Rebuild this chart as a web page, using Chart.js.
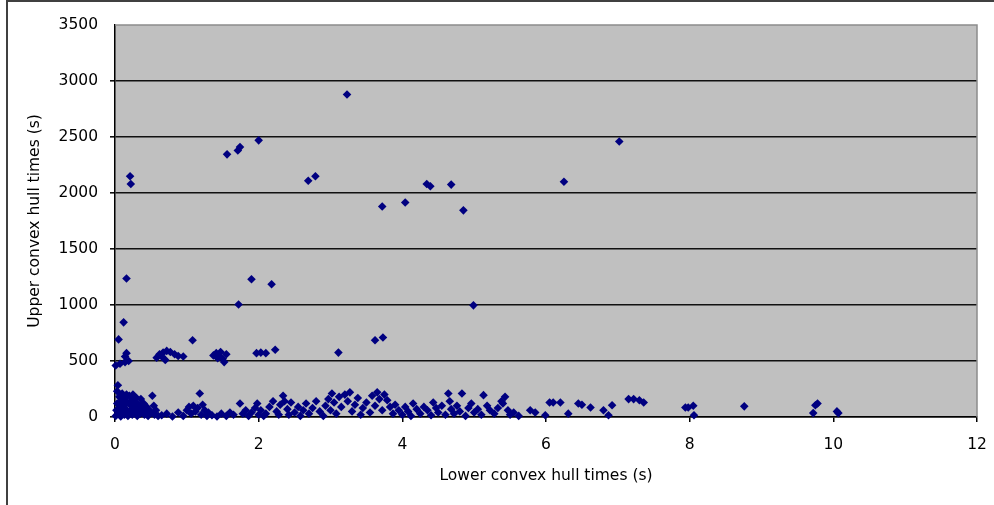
<!DOCTYPE html>
<html>
<head>
<meta charset="utf-8">
<script src="https://cdn.jsdelivr.net/npm/chart.js@4"></script>
<style>
  html, body { margin: 0; padding: 0; background: #fff; }
  #hullChart { display: block; }
</style>
</head>
<body>
<canvas id="hullChart" width="994" height="505"></canvas>
<script>
// lower convex hull time (s) for each run
const lowerTimes = [
  0.21,0.22,1.56,1.71,1.74,2.0,2.69,2.79,3.23,3.72,4.04,4.34,4.39,4.68,4.85,6.25,7.02,
  0.16,1.9,2.18,1.72,0.12,0.05,1.08,4.99,3.62,3.73,3.11,
  0.01,0.07,0.14,0.16,0.14,0.19,
  0.58,0.62,0.67,0.72,0.77,0.83,0.88,0.95,0.7,0.65,
  1.37,1.41,1.45,1.5,1.55,1.52,1.47,1.43,
  1.97,2.03,2.1,2.23,
  0.01,0.02,0.03,0.03,0.04,0.05,0.06,0.07,0.08,0.09,0.1,0.11,0.12,0.13,0.14,0.15,0.16,0.17,0.18,0.19,
  0.2,0.21,0.22,0.23,0.24,0.25,0.26,0.27,0.28,0.3,0.31,0.32,0.33,0.35,0.36,0.38,0.4,0.41,0.42,0.44,
  0.46,0.48,0.5,0.52,0.54,0.55,0.57,0.6,
  0.65,0.72,0.8,0.88,0.95,1.0,1.03,1.06,1.09,1.12,1.15,1.18,1.2,1.22,1.25,1.28,1.3,1.35,1.42,1.48,
  1.55,1.6,1.65,1.74,1.78,1.82,1.86,1.9,1.95,1.98,2.0,2.03,2.07,2.1,2.15,2.2,2.25,2.28,2.3,2.34,
  2.36,2.4,2.42,2.45,2.5,2.55,2.58,2.62,2.66,2.7,2.75,2.8,2.85,2.9,2.93,2.97,3.0,3.02,3.05,3.08,
  3.12,3.15,3.2,3.24,3.27,3.3,3.34,3.38,3.42,3.45,3.5,3.55,3.58,3.62,3.65,3.68,3.72,3.75,3.79,3.83,
  3.87,3.9,3.95,4.0,4.04,4.08,4.12,4.15,4.2,4.25,4.3,4.35,4.4,4.43,4.47,4.5,4.55,4.6,4.64,4.66,
  4.68,4.72,4.76,4.8,4.83,4.88,4.92,4.96,5.0,5.05,5.1,5.13,5.18,5.22,5.28,5.33,5.38,5.4,5.43,5.47,
  5.5,5.55,5.62,5.78,5.85,5.99,6.05,6.1,6.2,6.31,6.45,6.5,6.62,6.8,6.87,6.92,7.15,7.22,7.36,7.3,
  7.94,7.98,8.05,8.06,8.76,9.72,9.75,9.78,10.07,10.05
];

// upper convex hull time (s) for the same runs
const upperTimes = [
  2150,2080,2345,2380,2410,2470,2110,2150,2880,1880,1915,2080,2060,2075,1845,2100,2460,
  1237,1230,1185,1005,845,693,685,997,685,710,575,
  460,475,490,570,540,500,
  530,560,575,590,580,560,545,540,510,540,
  550,570,540,520,560,490,580,525,
  570,575,570,600,
  10,60,120,230,283,30,180,90,5,140,210,50,100,20,170,70,200,130,10,40,
  190,110,60,150,20,200,90,40,130,170,10,70,110,30,160,80,120,20,50,90,
  10,60,40,190,100,20,60,10,
  15,30,5,40,10,60,90,30,100,50,80,210,20,110,60,10,40,15,5,30,
  10,40,20,120,30,60,10,40,80,120,20,60,10,30,90,140,50,20,110,190,
  140,70,20,130,40,90,10,60,120,30,80,140,50,10,100,160,60,210,130,30,
  180,90,200,140,220,50,110,170,20,80,130,40,190,100,220,160,60,200,150,90,
  30,110,60,20,90,50,10,120,70,30,90,60,15,130,80,40,100,20,210,140,
  70,30,100,50,210,10,80,120,40,70,20,195,100,60,30,80,140,120,180,60,
  20,40,10,60,40,15,130,130,130,30,120,110,85,60,15,105,160,160,130,150,
  85,85,100,15,95,35,105,120,35,50
];

const xMin = 0, xMax = 12, xStep = 2;
const yMin = 0, yMax = 3500, yStep = 500;

const xLabel = 'Lower convex hull times (s)';
const yLabel = 'Upper convex hull times (s)';

const points = lowerTimes.map((x, i) => ({ x: x, y: upperTimes[i] }));

const labelFont = { family: 'DejaVu Sans', size: 15.5 };

const excelFrame = {
  id: 'excelFrame',
  beforeDraw(chart) {
    const { ctx, chartArea: a, width, height } = chart;
    ctx.save();
    ctx.fillStyle = '#ffffff';
    ctx.fillRect(0, 0, width, height);
    ctx.strokeStyle = '#404040';
    ctx.lineWidth = 2;
    ctx.beginPath();
    ctx.moveTo(7, height + 5);
    ctx.lineTo(7, 1);
    ctx.lineTo(width + 5, 1);
    ctx.stroke();
    ctx.fillStyle = '#c0c0c0';
    ctx.fillRect(a.left, a.top, a.right - a.left, a.bottom - a.top);
    ctx.restore();
  },
  afterDraw(chart) {
    const { ctx, chartArea: a } = chart;
    ctx.save();
    ctx.strokeStyle = '#8c8c8c';
    ctx.lineWidth = 1.5;
    ctx.beginPath();
    ctx.moveTo(a.left, a.top);
    ctx.lineTo(a.right, a.top);
    ctx.lineTo(a.right, a.bottom);
    ctx.stroke();
    ctx.restore();
  }
};

const ctx = document.getElementById('hullChart');

new Chart(ctx, {
  type: 'scatter',
  data: {
    datasets: [{
      label: 'Runs',
      data: points,
      pointStyle: 'rectRot',
      pointRadius: 4.3,
      pointHoverRadius: 4.3,
      backgroundColor: '#000080',
      borderColor: '#000080',
      borderWidth: 0,
      clip: false
    }]
  },
  options: {
    responsive: false,
    animation: false,
    events: [],
    layout: { padding: { left: 8, top: 25, right: 17, bottom: 0 } },
    plugins: {
      legend: { display: false },
      tooltip: { enabled: false }
    },
    scales: {
      x: {
        type: 'linear',
        min: xMin,
        max: xMax,
        afterFit: (scale) => {
          scale.height = 88;
          scale.paddingLeft = 0;
          scale.paddingRight = 0;
        },
        ticks: {
          stepSize: xStep,
          color: '#000',
          padding: 14,
          maxRotation: 0,
          font: labelFont,
          callback: (v) => String(v)
        },
        grid: {
          drawOnChartArea: false,
          drawTicks: true,
          tickLength: 5,
          color: '#000',
          lineWidth: 1.5
        },
        border: { display: true, color: '#000', width: 1.5 },
        title: {
          display: true,
          text: xLabel,
          color: '#000',
          font: labelFont,
          padding: { top: 0, bottom: 20 }
        }
      },
      y: {
        type: 'linear',
        min: yMin,
        max: yMax,
        afterFit: (scale) => {
          scale.width = 107;
          scale.paddingTop = 0;
          scale.paddingBottom = 0;
        },
        ticks: {
          stepSize: yStep,
          color: '#000',
          padding: 12,
          font: labelFont,
          callback: (v) => String(v)
        },
        grid: {
          drawTicks: true,
          tickLength: 5,
          color: (c) => (c.tick && c.tick.value === yMax) ? 'rgba(0,0,0,0)' : '#111',
          lineWidth: 1.6
        },
        border: { display: true, color: '#000', width: 1.5 },
        title: {
          display: true,
          text: yLabel,
          color: '#000',
          font: labelFont,
          padding: { top: 18, bottom: 0 }
        }
      }
    }
  },
  plugins: [excelFrame]
});
</script>
</body>
</html>
